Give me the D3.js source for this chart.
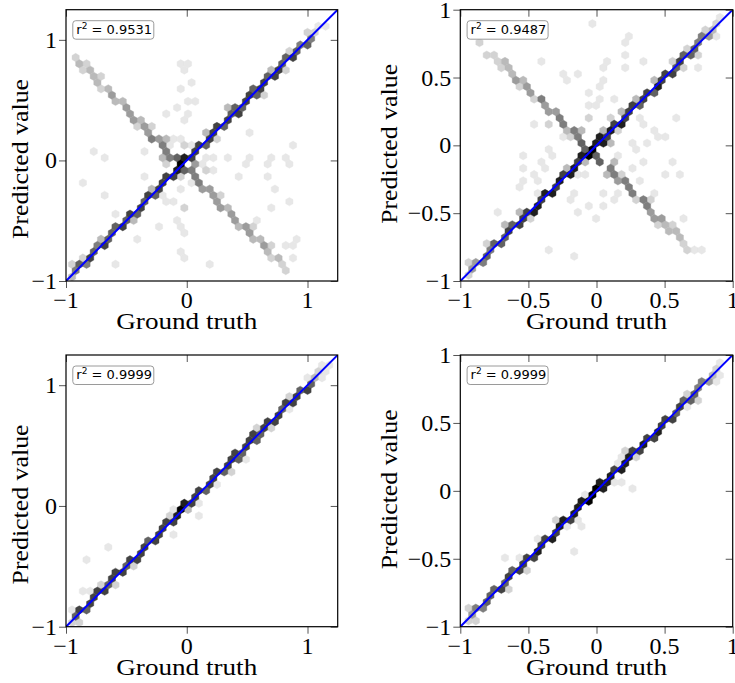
<!DOCTYPE html>
<html><head><meta charset="utf-8">
<script src="https://cdn.jsdelivr.net/npm/d3@7"></script>
<style>body{margin:0;background:#fff}svg{display:block}</style>
</head><body>
<svg id="chart" width="735" height="683"></svg>
<script>
// ---- data ----
const ticksWide = [-1, 0, 1];
const ticksWideLabels = ["\u22121", "0", "1"];
const ticksUnit = [-1, -0.5, 0, 0.5, 1];
const ticksUnitLabels = ["\u22121", "\u22120.5", "0", "0.5", "1"];
const r2Values = ["0.9531", "0.9487", "0.9999", "0.9999"];
const xTitle = "Ground truth";
const yTitle = "Predicted value";

// cells lying on the identity line: [ground truth (= predicted), density level 1..9]
const identityTL = [[-0.950,3],[-0.925,4],[-0.900,5],[-0.875,6],[-0.850,5],[-0.825,6],[-0.800,7],[-0.775,6],[-0.750,6],[-0.725,5],[-0.700,6],[-0.675,7],[-0.650,6],[-0.625,6],[-0.600,5],[-0.575,6],[-0.550,7],[-0.525,6],[-0.500,6],[-0.475,6],[-0.450,7],[-0.425,6],[-0.400,6],[-0.375,7],[-0.350,6],[-0.325,6],[-0.300,7],[-0.275,6],[-0.250,7],[-0.225,7],[-0.200,6],[-0.175,7],[-0.150,7],[-0.125,7],[-0.100,8],[-0.075,8],[-0.050,9],[-0.025,8],[0.000,8],[0.025,7],[0.050,7],[0.075,7],[0.100,6],[0.125,7],[0.150,6],[0.175,7],[0.200,6],[0.225,7],[0.250,6],[0.275,7],[0.300,6],[0.325,6],[0.350,7],[0.375,6],[0.400,7],[0.425,6],[0.450,6],[0.475,7],[0.500,6],[0.525,7],[0.550,6],[0.575,6],[0.600,7],[0.625,6],[0.650,7],[0.675,6],[0.700,6],[0.725,7],[0.750,6],[0.775,7],[0.800,6],[0.825,6],[0.850,7],[0.875,6],[0.900,6],[0.925,6],[0.950,5],[0.975,6],[1.000,5],[1.025,4],[1.050,2],[1.075,2],[1.100,1],[1.125,1]];
const identityTR = [[-0.950,2],[-0.925,3],[-0.900,4],[-0.875,4],[-0.850,5],[-0.825,5],[-0.800,6],[-0.775,5],[-0.750,6],[-0.725,6],[-0.700,6],[-0.675,6],[-0.650,6],[-0.625,7],[-0.600,6],[-0.575,7],[-0.550,6],[-0.525,7],[-0.500,7],[-0.475,8],[-0.450,8],[-0.425,7],[-0.400,7],[-0.375,8],[-0.350,8],[-0.325,7],[-0.300,7],[-0.275,8],[-0.250,7],[-0.225,7],[-0.200,8],[-0.175,7],[-0.150,8],[-0.125,7],[-0.100,8],[-0.075,8],[-0.050,9],[-0.025,9],[0.000,8],[0.025,8],[0.050,8],[0.075,7],[0.100,8],[0.125,7],[0.150,7],[0.175,8],[0.200,7],[0.225,7],[0.250,7],[0.275,7],[0.300,6],[0.325,7],[0.350,7],[0.375,7],[0.400,6],[0.425,8],[0.450,8],[0.475,7],[0.500,7],[0.525,6],[0.550,7],[0.575,6],[0.600,7],[0.625,6],[0.650,6],[0.675,6],[0.700,5],[0.725,6],[0.750,5],[0.775,5],[0.800,4],[0.825,3],[0.850,3],[0.875,2],[0.900,2],[0.925,1]];
const identityBL = [[-0.950,2],[-0.925,4],[-0.900,6],[-0.875,7],[-0.850,6],[-0.825,7],[-0.800,6],[-0.775,7],[-0.750,6],[-0.725,7],[-0.700,6],[-0.675,7],[-0.650,6],[-0.625,7],[-0.600,6],[-0.575,7],[-0.550,6],[-0.525,7],[-0.500,6],[-0.475,7],[-0.450,6],[-0.425,7],[-0.400,6],[-0.375,7],[-0.350,6],[-0.325,7],[-0.300,6],[-0.275,7],[-0.250,6],[-0.225,7],[-0.200,7],[-0.175,7],[-0.150,7],[-0.125,7],[-0.100,8],[-0.075,8],[-0.050,9],[-0.025,8],[0.000,8],[0.025,7],[0.050,7],[0.075,7],[0.100,6],[0.125,7],[0.150,6],[0.175,7],[0.200,6],[0.225,7],[0.250,6],[0.275,7],[0.300,6],[0.325,7],[0.350,6],[0.375,7],[0.400,6],[0.425,7],[0.450,6],[0.475,7],[0.500,6],[0.525,7],[0.550,6],[0.575,7],[0.600,6],[0.625,7],[0.650,6],[0.675,7],[0.700,6],[0.725,7],[0.750,6],[0.775,7],[0.800,6],[0.825,7],[0.850,6],[0.875,7],[0.900,6],[0.925,7],[0.950,6],[0.975,7],[1.000,6],[1.025,5],[1.050,3],[1.075,3],[1.100,2],[1.125,1],[1.150,1]];
const identityBR = [[-0.950,2],[-0.925,3],[-0.900,4],[-0.875,5],[-0.850,5],[-0.825,5],[-0.800,6],[-0.775,6],[-0.750,6],[-0.725,7],[-0.700,7],[-0.675,6],[-0.650,7],[-0.625,7],[-0.600,6],[-0.575,7],[-0.550,7],[-0.525,7],[-0.500,7],[-0.475,7],[-0.450,8],[-0.425,8],[-0.400,7],[-0.375,7],[-0.350,8],[-0.325,8],[-0.300,7],[-0.275,7],[-0.250,8],[-0.225,8],[-0.200,7],[-0.175,8],[-0.150,8],[-0.125,8],[-0.100,8],[-0.075,8],[-0.050,9],[-0.025,9],[0.000,9],[0.025,8],[0.050,8],[0.075,8],[0.100,8],[0.125,8],[0.150,7],[0.175,8],[0.200,8],[0.225,7],[0.250,8],[0.275,7],[0.300,7],[0.325,8],[0.350,7],[0.375,7],[0.400,7],[0.425,8],[0.450,8],[0.475,7],[0.500,7],[0.525,7],[0.550,7],[0.575,6],[0.600,7],[0.625,7],[0.650,6],[0.675,6],[0.700,6],[0.725,6],[0.750,5],[0.775,5],[0.800,4],[0.825,4],[0.850,3],[0.875,2],[0.900,2],[0.925,1]];

// other hexbin cells: [ground truth, predicted, density level 1..9]
const cellsTL = [
[-0.93,-0.87,2],[-0.88,-0.80,2],[-0.72,-0.66,3],[-0.60,-0.54,2],[-0.46,-0.52,3],[-0.30,-0.24,3],[0.18,0.24,3],[0.35,0.41,3],[0.52,0.58,3],[0.70,0.76,3],[0.86,0.92,2],[0.98,1.04,2],[1.08,1.14,1],[0.26,0.20,2],[0.62,0.56,2],[0.80,0.74,2],
[-0.91,0.83,2],[-0.88,0.80,3],[-0.85,0.77,2],[-0.82,0.74,3],[-0.79,0.71,2],[-0.76,0.68,3],[-0.73,0.65,3],[-0.70,0.62,2],[-0.67,0.59,3],[-0.64,0.56,3],[-0.61,0.53,4],[-0.58,0.50,3],[-0.55,0.47,3],[-0.52,0.44,4],[-0.49,0.41,3],[-0.46,0.38,4],[-0.43,0.35,4],[-0.40,0.32,3],[-0.37,0.29,4],[-0.34,0.26,4],[-0.31,0.23,4],[-0.28,0.20,5],[-0.25,0.17,4],[-0.22,0.14,4],[-0.19,0.11,5],[-0.16,0.08,5],[-0.13,0.05,5],[-0.10,0.02,6],[-0.07,-0.01,6],[0.00,-0.08,6],[0.03,-0.11,5],[0.06,-0.14,5],[0.09,-0.17,4],[0.12,-0.20,5],[0.15,-0.23,4],[0.18,-0.26,4],[0.21,-0.29,4],[0.24,-0.32,3],[0.27,-0.35,4],[0.30,-0.38,4],[0.33,-0.41,3],[0.36,-0.44,4],[0.39,-0.47,3],[0.42,-0.50,4],[0.45,-0.53,3],[0.48,-0.56,4],[0.51,-0.59,3],[0.54,-0.62,4],[0.57,-0.65,3],[0.60,-0.68,3],[0.63,-0.71,4],[0.66,-0.74,3],[0.69,-0.77,3],[0.72,-0.80,2],[0.75,-0.83,3],[0.78,-0.86,2],[0.81,-0.89,2],[0.84,-0.92,1],
[-0.84,0.80,2],[-0.70,0.68,2],[-0.62,0.48,2],[-0.50,0.48,2],[-0.40,0.26,2],[-0.30,0.28,2],[-0.20,0.04,3],[-0.16,0.16,3],[0.05,-0.05,4],[0.12,-0.26,3],[0.28,-0.28,2],[0.42,-0.56,2],[0.55,-0.58,2],[0.66,-0.78,2],[0.70,-0.70,2],
[-0.03,0.82,1],[0.03,0.82,1],[-0.03,0.74,1],[0.03,0.65,1],[-0.03,0.58,1],[0.03,0.51,1],[0.08,0.51,1],[-0.06,0.43,1],[0.00,0.38,1],[-0.03,0.35,1],[-0.19,0.37,1],[-0.12,0.20,1],[-0.05,0.20,1],[-0.03,0.12,2],[-0.12,0.12,1],[0.05,0.14,1],
[-0.77,0.06,1],[-0.70,0.03,1],[-0.88,-0.19,1],[-0.66,-0.30,1],[-0.58,-0.42,1],[-0.42,-0.66,1],[-0.59,-0.87,1],[-0.35,-0.16,1],[-0.34,0.06,1],[-0.20,-0.56,1],
[-0.03,-0.24,1],[-0.10,-0.35,1],[-0.03,-0.42,2],[-0.08,-0.47,1],[-0.03,-0.55,1],[-0.05,-0.61,1],[-0.08,-0.77,1],[-0.03,-0.79,1],[-0.16,-0.33,1],[-0.10,-0.15,2],[-0.03,-0.15,2],[0.03,-0.20,1],[-0.19,-0.27,1],
[0.51,0.25,1],[0.86,0.11,1],[0.24,0.03,1],[0.33,0.03,1],[0.54,0.03,1],[0.71,0.03,1],[0.68,-0.02,1],[0.80,0.03,1],[0.83,-0.02,1],[0.49,-0.05,1],[0.42,-0.11,1],[0.67,-0.11,1],[0.18,-0.06,2],[0.22,-0.06,1],[0.13,-0.03,1],[0.70,-0.25,1],[0.86,-0.33,1],[0.72,-0.38,1],[0.57,-0.47,1],[0.80,-0.69,1],[0.88,-0.64,1],[0.88,-0.74,1],[0.88,-0.82,1],[0.18,-0.87,1],[0.10,0.10,2],[0.15,0.03,1],
[-0.12,0.03,3],[-0.16,-0.05,2],[0.00,-0.08,5],[-0.08,0.00,5]
];

const cellsTR = [
[-0.92,-0.86,2],[-0.80,-0.74,2],[-0.66,-0.60,3],[-0.55,-0.49,3],[-0.40,-0.34,3],[-0.22,-0.16,3],[-0.08,-0.02,4],[0.06,0.12,3],[0.20,0.26,3],[0.30,0.36,3],[0.42,0.48,3],[0.55,0.61,2],[0.66,0.72,2],[0.78,0.84,2],[0.62,0.56,2],[0.74,0.68,2],[0.86,0.80,1],[-0.30,-0.36,3],[-0.48,-0.54,2],[0.10,0.04,3],[0.18,0.12,2],
[-0.87,0.77,2],[-0.79,0.68,2],[-0.76,0.68,2],[-0.73,0.65,2],[-0.70,0.62,2],[-0.67,0.59,3],[-0.64,0.56,3],[-0.61,0.53,3],[-0.58,0.50,4],[-0.55,0.47,3],[-0.52,0.44,4],[-0.49,0.41,4],[-0.46,0.38,4],[-0.43,0.35,4],[-0.40,0.32,5],[-0.37,0.29,4],[-0.34,0.26,4],[-0.31,0.23,4],[-0.28,0.20,5],[-0.25,0.17,5],[-0.22,0.14,4],[-0.19,0.11,5],[-0.16,0.08,5],[-0.13,0.05,5],[-0.10,0.02,6],[-0.07,-0.01,6],[-0.04,-0.04,7],[-0.01,-0.07,6],[0.02,-0.10,6],[0.05,-0.13,5],[0.08,-0.16,5],[0.11,-0.19,5],[0.14,-0.22,5],[0.17,-0.25,4],[0.20,-0.28,5],[0.23,-0.31,5],[0.26,-0.34,4],[0.29,-0.37,5],[0.32,-0.40,5],[0.35,-0.43,4],[0.38,-0.46,5],[0.41,-0.49,4],[0.44,-0.52,4],[0.47,-0.55,4],[0.50,-0.58,3],[0.53,-0.61,3],[0.56,-0.64,3],[0.59,-0.67,3],[0.62,-0.70,2],[0.65,-0.73,2],[0.68,-0.76,2],[0.71,-0.79,1],[0.79,-0.78,1],
[-0.70,0.56,2],[-0.55,0.45,2],[-0.45,0.32,2],[-0.30,0.26,2],[-0.22,0.10,3],[-0.12,0.10,3],[0.08,-0.20,3],[0.18,-0.20,2],[0.28,-0.40,2],[0.40,-0.42,2],[0.45,-0.58,2],[0.56,-0.60,2],[-0.35,0.18,2],[0.12,-0.14,3],
[-0.02,0.89,1],[0.20,0.76,1],[-0.42,0.60,1],[-0.24,0.49,1],[-0.13,0.53,1],[-0.22,0.54,1],[-0.06,0.39,1],[-0.05,0.30,1],[-0.02,0.30,1],[-0.45,0.14,1],[-0.56,-0.06,1],[-0.35,0.00,1],[-0.35,-0.08,1],[-0.27,0.07,1],[-0.40,-0.13,1],[-0.36,-0.16,1],[-0.56,-0.28,1],[-0.52,-0.28,1],[-0.44,-0.28,1],[-0.44,-0.33,1],[-0.27,-0.29,1],[-0.20,-0.40,1],[-0.17,-0.38,1],[-0.15,-0.50,1],[-0.35,-0.78,1],[-0.19,-0.82,1],[-0.05,-0.45,1],[-0.15,-0.20,1],[-0.10,-0.20,1],[-0.75,-0.51,1],[-0.55,-0.16,1],[-0.48,-0.20,1],
[0.25,0.80,1],[0.19,0.68,1],[0.35,0.64,1],[0.05,0.60,1],[0.09,0.60,1],[0.23,0.57,1],[0.72,0.56,1],[0.03,0.48,1],[0.03,0.42,1],[0.03,0.33,1],[0.12,0.33,1],[0.58,0.18,1],[0.32,0.14,1],[0.32,0.19,1],[0.40,0.10,1],[0.46,0.07,1],[0.51,0.07,1],[0.35,0.03,1],[0.24,0.00,1],[0.30,-0.05,1],[0.16,-0.05,1],[0.54,-0.13,1],[0.35,-0.13,1],[0.24,-0.17,1],[0.51,-0.24,1],[0.61,-0.24,1],[0.30,-0.28,1],[0.45,-0.35,1],[0.03,-0.35,1],[0.15,-0.36,1],[0.15,-0.40,1],[0.05,-0.47,1],[0.00,-0.55,1],[0.64,-0.51,1],
[-0.12,0.03,3],[-0.18,0.08,2],[0.08,0.02,3],[0.02,-0.10,4],[-0.08,-0.12,3],[0.12,0.20,2],[-0.06,0.18,2]
];

const cellsBL = [
[-0.93,-0.87,1],[-0.88,-0.94,2],[-0.70,-0.64,2],[-0.58,-0.64,2],[-0.45,-0.51,2],[-0.26,-0.32,2],[-0.12,-0.06,2],[0.02,-0.04,3],[0.22,0.28,2],[0.36,0.30,2],[0.46,0.40,1],[0.58,0.64,2],[0.70,0.64,2],[0.84,0.90,2],[0.98,1.04,1],[1.10,1.16,1],
[-0.85,-0.43,1],[-0.65,-0.34,1],[-0.85,-0.70,1],[-0.81,-0.70,1],[-0.12,-0.05,1],[0.08,-0.08,1],[0.10,0.00,1],[-0.10,-0.21,1],[0.34,0.28,1],[0.23,0.19,1],[0.60,0.55,1],[0.74,0.68,1],[0.85,0.81,1],[1.14,1.06,1]
];

const cellsBR = [
[-0.93,-0.87,2],[-0.88,-0.94,2],[-0.66,-0.72,2],[-0.52,-0.58,2],[-0.40,-0.34,2],[-0.28,-0.22,2],[-0.12,-0.06,3],[0.00,0.06,3],[0.06,0.00,3],[0.22,0.28,2],[0.30,0.24,2],[0.44,0.38,2],[0.56,0.50,2],[0.66,0.72,2],[0.72,0.66,2],[0.86,0.80,1],[0.90,0.86,1],
[-0.69,-0.49,1],[-0.55,-0.49,1],[-0.44,-0.34,1],[-0.40,-0.34,1],[-0.35,-0.34,1],[-0.22,-0.28,1],[-0.17,-0.42,1],[-0.13,-0.26,1],[-0.12,-0.20,1],[-0.15,-0.15,1],[0.14,0.06,1],[0.20,0.06,1],[0.26,0.02,1],[0.14,0.21,1],[0.20,0.24,1],[-0.09,-0.02,1],[0.66,0.61,1],[-0.91,-0.86,1]
];

// ---- layout ----
const panels = [
  {identity: identityTL, cells: cellsTL, r2: r2Values[0], left: 66,    top: 9.7, w: 271.7, h: 271.3, domain: [-1, 1.25], ticks: ticksWide, labels: ticksWideLabels, hexW: 0.06,   origin: [-0.05, -0.03], yTitleX: 28},
  {identity: identityTR, cells: cellsTR, r2: r2Values[1], left: 460.3, top: 9.7, w: 272.4, h: 271.3, domain: [-1, 1],    ticks: ticksUnit, labels: ticksUnitLabels, hexW: 0.0535, origin: [-0.03, -0.03], yTitleX: 397},
  {identity: identityBL, cells: cellsBL, r2: r2Values[2], left: 66,    top: 355, w: 271.7, h: 271.7, domain: [-1, 1.25], ticks: ticksWide, labels: ticksWideLabels, hexW: 0.06,   origin: [-0.05, -0.03], yTitleX: 28},
  {identity: identityBR, cells: cellsBR, r2: r2Values[3], left: 460.3, top: 355, w: 272.4, h: 271.7, domain: [-1, 1],    ticks: ticksUnit, labels: ticksUnitLabels, hexW: 0.0535, origin: [-0.03, -0.03], yTitleX: 397}
];

const svg = d3.select("#chart");
const serif = "'Liberation Serif', 'Times New Roman', Times, serif";
const shade = lvl => d3.interpolateGreys(Math.min(1, 0.17 + (lvl - 1) * 0.104));

function snap(x, y, sx, ox, oy) {
  const sy = sx * Math.sqrt(3);
  const i1 = Math.round((x - ox) / sx), j1 = Math.round((y - oy) / sy);
  const xa = ox + i1 * sx, ya = oy + j1 * sy;
  const i2 = Math.round((x - ox - sx / 2) / sx), j2 = Math.round((y - oy - sy / 2) / sy);
  const xb = ox + (i2 + 0.5) * sx, yb = oy + (j2 + 0.5) * sy;
  const da = (x - xa) ** 2 + (y - ya) ** 2, db = (x - xb) ** 2 + (y - yb) ** 2;
  return da <= db ? {key: "a" + i1 + "_" + j1, cx: xa, cy: ya} : {key: "b" + i2 + "_" + j2, cx: xb, cy: yb};
}

panels.forEach((p, pi) => {
  const x = d3.scaleLinear().domain(p.domain).range([p.left, p.left + p.w]);
  const y = d3.scaleLinear().domain(p.domain).range([p.top + p.h, p.top]);
  const g = svg.append("g");
  const clipId = "clip" + pi;
  g.append("clipPath").attr("id", clipId).append("rect")
    .attr("x", p.left).attr("y", p.top).attr("width", p.w).attr("height", p.h);

  // bin cells onto the hexagonal lattice
  const bins = new Map();
  const all = p.identity.map(([v, l]) => [v, v, l]).concat(p.cells);
  all.forEach(([gx, gy, lvl]) => {
    const s = snap(gx, gy, p.hexW, p.origin[0], p.origin[1]);
    const prev = bins.get(s.key);
    if (!prev || prev.lvl < lvl) bins.set(s.key, {cx: s.cx, cy: s.cy, lvl});
  });
  const hw = x(p.hexW) - x(0);
  const hh = hw * 2 / Math.sqrt(3);
  const hexPath = `M0,${-hh/2}L${hw/2},${-hh/4}L${hw/2},${hh/4}L0,${hh/2}L${-hw/2},${hh/4}L${-hw/2},${-hh/4}Z`;
  const plot = g.append("g").attr("clip-path", `url(#${clipId})`);
  plot.selectAll("path.hex").data(Array.from(bins.values()).sort((a, b) => a.lvl - b.lvl))
    .join("path").attr("class", "hex")
    .attr("d", hexPath)
    .attr("transform", d => `translate(${x(d.cx)},${y(d.cy)})`)
    .attr("fill", d => shade(d.lvl))
    .attr("stroke", d => shade(d.lvl)).attr("stroke-width", 0.4);

  // identity line
  plot.append("line")
    .attr("x1", x(p.domain[0])).attr("y1", y(p.domain[0]))
    .attr("x2", x(p.domain[1])).attr("y2", y(p.domain[1]))
    .attr("stroke", "#0000ff").attr("stroke-width", 2);

  // ticks via d3 axes (labels drawn separately)
  const tk = 7;
  const mk = (axis) => axis.tickValues(p.ticks).tickFormat("").tickSize(tk).tickSizeOuter(0);
  const axes = [
    g.append("g").attr("transform", `translate(0,${p.top + p.h})`).call(mk(d3.axisBottom(x))),
    g.append("g").attr("transform", `translate(0,${p.top})`).call(mk(d3.axisBottom(x))),
    g.append("g").attr("transform", `translate(${p.left},0)`).call(mk(d3.axisLeft(y))),
    g.append("g").attr("transform", `translate(${p.left + p.w},0)`).call(mk(d3.axisLeft(y)))
  ];
  axes.forEach(a => {
    a.select(".domain").remove();
    a.selectAll(".tick line").attr("stroke", "#555").attr("stroke-width", 1);
    a.selectAll(".tick text").remove();
  });

  // frame
  g.append("rect").attr("x", p.left).attr("y", p.top).attr("width", p.w).attr("height", p.h)
    .attr("fill", "none").attr("stroke", "#000").attr("stroke-width", 1.2);

  // tick labels
  g.selectAll("text.xt").data(p.ticks).join("text").attr("class", "xt")
    .attr("x", d => x(d)).attr("y", p.top + p.h + 27)
    .attr("text-anchor", "middle").attr("font-family", serif).attr("font-size", 24)
    .text((d, i) => p.labels[i]);
  g.selectAll("text.yt").data(p.ticks).join("text").attr("class", "yt")
    .attr("x", p.left - 9).attr("y", d => y(d) + 8)
    .attr("text-anchor", "end").attr("font-family", serif).attr("font-size", 24)
    .text((d, i) => p.labels[i]);

  // axis titles
  g.append("text").attr("x", x(0)).attr("y", p.top + p.h + 48)
    .attr("text-anchor", "middle").attr("font-family", serif).attr("font-size", 23)
    .attr("textLength", 141).attr("lengthAdjust", "spacingAndGlyphs").text(xTitle);
  const cy = y(0) - 1.5;
  g.append("text").attr("transform", `translate(${p.yTitleX},${cy}) rotate(-90)`)
    .attr("text-anchor", "middle").attr("font-family", serif).attr("font-size", 23)
    .attr("textLength", 160).attr("lengthAdjust", "spacingAndGlyphs").text(yTitle);

  // r^2 badge
  const bx = p.left + 6.8, by = p.top + 11;
  g.append("rect").attr("x", bx).attr("y", by).attr("width", 81).attr("height", 18.5)
    .attr("rx", 3).attr("fill", "#fff").attr("stroke", "#9a9a9a").attr("stroke-width", 1);
  const t = g.append("text").attr("x", bx + 3.5).attr("y", by + 13.2)
    .attr("font-family", "'DejaVu Sans', sans-serif").attr("font-size", 13).attr("fill", "#000");
  t.append("tspan").text("r");
  t.append("tspan").attr("font-size", 9).attr("dy", -5).text("2");
  t.append("tspan").attr("dy", 5).text(" = " + p.r2);
});
</script>
</body></html>
